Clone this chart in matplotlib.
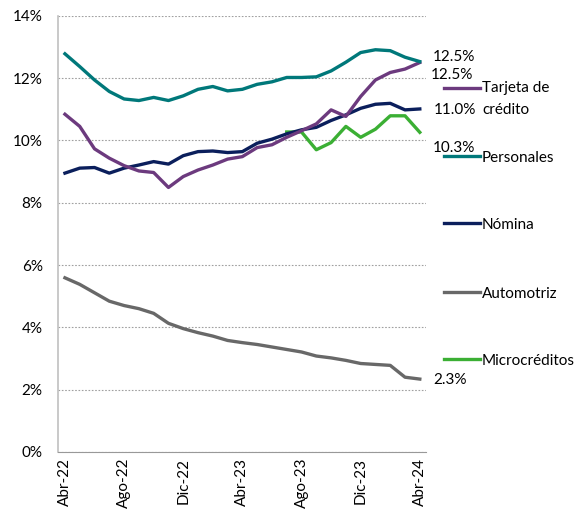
import matplotlib
matplotlib.use("Agg")
import matplotlib.pyplot as plt
from matplotlib.lines import Line2D

plt.rcParams['font.family'] = ['Lato', 'DejaVu Sans']

months = ["Abr-22", "May-22", "Jun-22", "Jul-22", "Ago-22", "Sep-22", "Oct-22", "Nov-22",
          "Dic-22", "Ene-23", "Feb-23", "Mar-23", "Abr-23", "May-23", "Jun-23", "Jul-23",
          "Ago-23", "Sep-23", "Oct-23", "Nov-23", "Dic-23", "Ene-24", "Feb-24", "Mar-24",
          "Abr-24"]

personales = [12.78, 12.37, 11.94, 11.57, 11.33, 11.28, 11.38, 11.28, 11.43, 11.64, 11.73,
              11.59, 11.64, 11.80, 11.88, 12.02, 12.02, 12.04, 12.23, 12.51, 12.82, 12.91,
              12.88, 12.67, 12.53]
tarjeta = [10.84, 10.45, 9.73, 9.43, 9.19, 9.02, 8.97, 8.49, 8.84, 9.05, 9.21, 9.40, 9.48,
           9.77, 9.86, 10.10, 10.31, 10.53, 10.98, 10.77, 11.41, 11.94, 12.18, 12.29, 12.50]
nomina = [8.95, 9.11, 9.13, 8.95, 9.11, 9.21, 9.32, 9.24, 9.51, 9.64, 9.66, 9.61, 9.64,
          9.91, 10.04, 10.21, 10.34, 10.42, 10.64, 10.82, 11.03, 11.16, 11.19, 10.98, 11.01]
automotriz = [5.59, 5.38, 5.11, 4.84, 4.70, 4.60, 4.45, 4.13, 3.96, 3.83, 3.72, 3.58, 3.51,
              3.45, 3.37, 3.29, 3.21, 3.08, 3.02, 2.94, 2.84, 2.81, 2.78, 2.40, 2.34]
micro_start = 15
microcreditos = [10.27, 10.27, 9.70, 9.93, 10.45, 10.10, 10.36, 10.79, 10.79, 10.26]

c_pers = "#00787A"
c_tarj = "#6C3A7E"
c_nom = "#0B1F5C"
c_auto = "#686868"
c_micro = "#3BAF34"

fig = plt.figure(figsize=(5.8, 5.09), dpi=100)
ax = fig.add_axes([0.1, 0.112, 0.634, 0.857])

x = list(range(len(months)))
lw = 2.4
ax.plot(x, automotriz, color=c_auto, lw=lw)
ax.plot(x[micro_start:], microcreditos, color=c_micro, lw=lw)
ax.plot(x, nomina, color=c_nom, lw=lw)
ax.plot(x, tarjeta, color=c_tarj, lw=lw)
ax.plot(x, personales, color=c_pers, lw=lw)

ax.set_xlim(-0.47, 24.4)
ax.set_ylim(0, 14)
ax.set_yticks(range(0, 15, 2))
ax.set_yticklabels([f"{v}%" for v in range(0, 15, 2)], fontsize=11)
ax.set_xticks(x[::4])
ax.set_xticklabels(months[::4], rotation=90, fontsize=11)
ax.tick_params(axis='y', length=0, pad=11)
ax.tick_params(axis='x', length=0, pad=4)
ax.grid(axis='y', color='#a0a0a0', linestyle=(0, (1.5, 1.5)), linewidth=0.8)
for s in ['top', 'right']:
    ax.spines[s].set_visible(False)
ax.spines['bottom'].set_color('#999999')
ax.spines['left'].set_color('#c0c0c0')
ax.spines['left'].set_linewidth(1.2)

# value labels at the last point
last = len(months) - 1
labels = [
    (personales[-1], (9, 3)),
    (tarjeta[-1], (8, -9)),
    (nomina[-1], (10, -1)),
    (microcreditos[-1], (9, -11)),
    (automotriz[-1], (10, -1)),
]
for val, off in labels:
    ax.annotate(f"{val:.1f}%", xy=(last, val), xytext=off, textcoords='offset points',
                va='center', ha='left', fontsize=11, annotation_clip=False)

# legend on the right
legend_items = [
    ("Tarjeta de\ncrédito", c_tarj, 88),
    ("Personales", c_pers, 156),
    ("Nómina", c_nom, 223),
    ("Automotriz", c_auto, 292),
    ("Microcréditos", c_micro, 359),
]
W, H = 580, 509
for name, col, ypx in legend_items:
    yf = 1 - ypx / H
    fig.add_artist(Line2D([444 / W, 480 / W], [yf, yf], color=col, lw=lw))
    if "\n" in name:
        first, second = name.split("\n")
        fig.text(482 / W, yf, first, va='center', ha='left', fontsize=11)
        fig.text(482 / W, 1 - (ypx + 22) / H, second, va='center', ha='left', fontsize=11)
    else:
        fig.text(482 / W, 1 - (ypx + 2) / H, name, va='center', ha='left', fontsize=11)

fig.savefig("out.png", dpi=100)
